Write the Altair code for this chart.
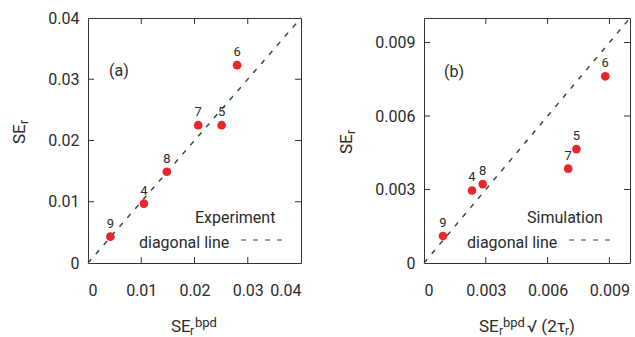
import altair as alt
import pandas as pd

# ---------------- data ----------------
ids = ["9", "4", "8", "7", "5", "6"]
exp_x = [0.0042, 0.0105, 0.0148, 0.0207, 0.0251, 0.0280]
exp_y = [0.0043, 0.0097, 0.0149, 0.0225, 0.0225, 0.0323]
sim_x = [0.00092, 0.00233, 0.00285, 0.0070, 0.0074, 0.0088]
sim_y = [0.0011, 0.00296, 0.00322, 0.00385, 0.00465, 0.00762]

ticks_a = [0, 0.01, 0.02, 0.03, 0.04]
ticks_b = [0, 0.003, 0.006, 0.009]
inner_a = [0.01, 0.02, 0.03]
inner_b = [0.003, 0.006, 0.009]
diag_a = [0, 0.04]
diag_b = [0, 0.01]

panel_tags = ["(a)", "(b)"]
legend_names = ["Experiment", "Simulation"]
legend_line = ["diagonal line"]

FONT = "Roboto"
TXT = "#2b2b2b"
RED = "#e8262b"
W_A, W_B, H = 213, 206, 245


def panel(xs, ys, ticks, inner, diag, dom, width, tag, name, lay):
    sx = alt.Scale(domain=dom, nice=False, zero=False)
    sy = alt.Scale(domain=dom, nice=False, zero=False)
    ax_x = alt.Axis(values=ticks, format="~g", title=None, labelPadding=19)
    ax_y = alt.Axis(values=ticks, format="~g", title=None, labelPadding=9)
    X = lambda f: alt.X(f, type="quantitative", scale=sx, axis=ax_x)
    Y = lambda f: alt.Y(f, type="quantitative", scale=sy, axis=ax_y)

    pts = pd.DataFrame({"x": xs, "y": ys, "id": ids})
    dg = pd.DataFrame({"x": diag, "y": diag})
    tk = pd.DataFrame({"v": inner})

    diag_l = alt.Chart(dg).mark_line(color="#444", strokeWidth=1.5, strokeDash=[5, 7]).encode(
        x=X("x"), y=Y("y"))
    dots = alt.Chart(pts).mark_circle(size=75, color=RED, opacity=1).encode(x=X("x"), y=Y("y"))
    labs = alt.Chart(pts).mark_text(font=FONT, fontSize=13, color=TXT, baseline="alphabetic",
                                    dy=-9).encode(x=X("x"), y=Y("y"), text="id:N")

    tick_b = alt.Chart(tk).mark_rule(color="#333").encode(x=X("v"), y=alt.value(H), y2=alt.value(H - 6))
    tick_t = alt.Chart(tk).mark_rule(color="#333").encode(x=X("v"), y=alt.value(0), y2=alt.value(6))
    tick_l = alt.Chart(tk).mark_rule(color="#333").encode(y=Y("v"), x=alt.value(0), x2=alt.value(6))
    tick_r = alt.Chart(tk).mark_rule(color="#333").encode(y=Y("v"), x=alt.value(width), x2=alt.value(width - 6))

    def txt(s, x, y, size=16, **kw):
        return alt.Chart(pd.DataFrame({"t": [s]})).mark_text(
            font=FONT, fontSize=size, color=TXT, align="left", baseline="alphabetic", **kw
        ).encode(text="t:N", x=alt.value(x), y=alt.value(y))

    layers = [diag_l, tick_b, tick_t, tick_l, tick_r, dots, labs]
    layers.append(txt(tag, lay["tag"][0], lay["tag"][1], 16, ))
    layers.append(txt(name, lay["name"][0], 205))
    layers.append(txt(legend_line[0], lay["diag"][0], 230))
    seg = alt.Chart(pd.DataFrame({"t": [legend_line[0]]})).mark_rule(
        color="#444", strokeWidth=1.2, strokeDash=[5, 7]).encode(
        x=alt.value(lay["seg"][0]), x2=alt.value(lay["seg"][1]), y=alt.value(222))
    layers.append(seg)
    # y title  SE_r
    layers.append(txt("SE", lay["yt"][0], lay["yt"][1], 17, angle=270))
    layers.append(txt("r", lay["yt"][0] + 3, lay["yt"][1] - 20, 12, angle=270))
    # x title
    for s, x, y, size in lay["xt"]:
        layers.append(txt(s, x, y, size))
    return alt.layer(*layers).properties(width=width, height=H)


lay_a = {"tag": (21, 58), "name": (107,), "diag": (51,), "seg": (153, 197), "yt": (-63, 126),
         "xt": [("SE", 83, 314, 17), ("r", 102, 317, 12), ("bpd", 107, 309, 13)]}
lay_b = {"tag": (20, 59), "name": (103,), "diag": (43,), "seg": (145, 193), "yt": (-72, 136),
         "xt": [("SE", 55, 314, 17), ("r", 75, 317, 12), ("bpd", 79, 309, 13),
                ("\u221a (2\u03c4", 103, 314, 17), ("r", 141, 317, 12), (")", 145, 314, 17)]}

pa = panel(exp_x, exp_y, ticks_a, inner_a, diag_a, [0, 0.04], W_A, panel_tags[0], legend_names[0], lay_a)
pb = panel(sim_x, sim_y, ticks_b, inner_b, diag_b, [0, 0.01], W_B, panel_tags[1], legend_names[1], lay_b)

chart = alt.hconcat(pa, pb, spacing=32).properties(
    padding={"left": 10, "top": 9, "right": 0, "bottom": 0}, background="white"
).configure_view(stroke="#333", strokeWidth=1).configure_axis(
    labelFont=FONT, labelFontSize=16, labelColor=TXT, grid=False, domain=False,
    ticks=False, tickSize=0
)

chart.save("out.html", embed_options={"renderer": "svg", "actions": False})
